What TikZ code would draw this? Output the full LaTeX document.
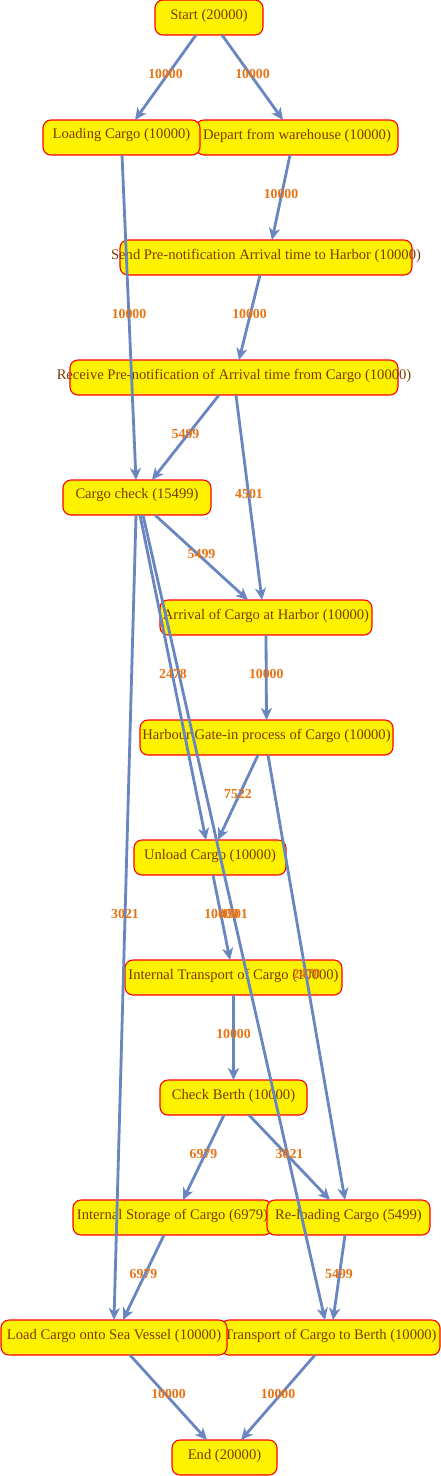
\documentclass[tikz,border=0pt]{standalone}
\usepackage{fontspec}
\setmainfont{Liberation Serif}
\usetikzlibrary{arrows.meta}
\definecolor{edgeblue}{RGB}{106,134,192}
\definecolor{lblorange}{RGB}{230,115,20}
\definecolor{txtbrown}{RGB}{120,60,0}
\begin{document}
\begin{tikzpicture}[x=1pt,y=-1pt,
  box/.style={draw=red, line width=1.1pt, fill=yellow, rounded corners=8pt, minimum height=35pt, inner sep=0pt, outer sep=0pt},
  txt/.style={font=\fontsize{14.6}{16}\selectfont, text=txtbrown, inner sep=0pt, yshift=2pt},
  flow/.style={draw=edgeblue, line width=2.8pt, -{Stealth[length=12pt,width=11pt,inset=3.5pt]}},
  lbl/.style={font=\fontsize{13.8}{15}\selectfont\bfseries, text=lblorange, inner sep=0pt, yshift=4pt}]
\useasboundingbox (0,0) rectangle (441,1476);
% nodes
\node[box, minimum width=108pt, label={[txt]center:Start (20000)}] (start) at (209,17.5) {};
\node[box, minimum width=202pt, label={[txt]center:Depart from warehouse (10000)}] (depart) at (297,137.5) {};
\node[box, minimum width=157pt, label={[txt]center:Loading Cargo (10000)}] (load) at (121.5,137.5) {};
\node[box, minimum width=292pt, label={[txt]center:Send Pre-notification Arrival time to Harbor (10000)}] (send) at (266,257.5) {};
\node[box, minimum width=328pt, label={[txt]center:Receive Pre-notification of Arrival time from Cargo (10000)}] (recv) at (234,377.5) {};
\node[box, minimum width=148pt, label={[txt]center:Cargo check (15499)}] (check) at (137,497.5) {};
\node[box, minimum width=212pt, label={[txt]center:Arrival of Cargo at Harbor (10000)}] (arrival) at (266,617.5) {};
\node[box, minimum width=253pt, label={[txt]center:Harbour Gate-in process of Cargo (10000)}] (gate) at (266.5,737.5) {};
\node[box, minimum width=152pt, label={[txt]center:Unload Cargo (10000)}] (unload) at (210,857.5) {};
\node[box, minimum width=217pt, label={[txt]center:Internal Transport of Cargo (10000)}] (itrans) at (233.5,977.5) {};
\node[box, minimum width=147pt, label={[txt]center:Check Berth (10000)}] (berth) at (233.5,1097.5) {};
\node[box, minimum width=199pt, label={[txt]center:Internal Storage of Cargo (6979)}] (istore) at (172.5,1217.5) {};
\node[box, minimum width=163pt, label={[txt]center:Re-loading Cargo (5499)}] (reload) at (348.5,1217.5) {};
\node[box, minimum width=219pt, label={[txt]center:Transport of Cargo to Berth (10000)}] (tberth) at (330.5,1337.5) {};
\node[box, minimum width=226pt, label={[txt]center:Load Cargo onto Sea Vessel (10000)}] (vessel) at (114,1337.5) {};
\node[box, minimum width=105pt, label={[txt]center:End (20000)}] (end) at (224.5,1457.5) {};
% edges
\draw[flow] ([xshift=-13pt]start.south) -- coordinate[midway] (m1) ([xshift=13.5pt]load.north);
\draw[flow] ([xshift=13pt]start.south) -- coordinate[midway] (m2) ([xshift=-14pt]depart.north);
\draw[flow] ([xshift=0.5pt]load.south) -- coordinate[midway] (m3) ([xshift=-1pt]check.north);
\draw[flow] ([xshift=-7pt]depart.south) -- coordinate[midway] (m4) ([xshift=6pt]send.north);
\draw[flow] ([xshift=-6pt]send.south) -- coordinate[midway] (m5) ([xshift=5pt]recv.north);
\draw[flow] ([xshift=-15pt]recv.south) -- coordinate[midway] (m6) ([xshift=15pt]check.north);
\draw[flow] ([xshift=2pt]recv.south) -- coordinate[midway] (m7) ([xshift=-4pt]arrival.north);
\draw[flow] ([xshift=18pt]check.south) -- coordinate[midway] (m8) ([xshift=-18pt]arrival.north);
\draw[flow] ([xshift=3pt]check.south) -- coordinate[midway] (m9) ([xshift=-4pt]unload.north);
\draw[flow] (arrival.south) -- coordinate[midway] (m10) (gate.north);
\draw[flow] ([xshift=-8.5pt]gate.south) -- coordinate[midway] (m11) ([xshift=8pt]unload.north);
\draw[flow] ([xshift=3pt]unload.south) -- coordinate[midway] (m12) ([xshift=-3.5pt]itrans.north);
\draw[flow] ([xshift=6pt]check.south) -- coordinate[midway] (m13) ([xshift=-5.5pt]tberth.north);
\draw[flow] ([xshift=1.5pt]gate.south) -- coordinate[midway] (m14) ([xshift=-3.5pt]reload.north);
\draw[flow] ([xshift=-1pt]check.south) -- coordinate[midway] (m15) (vessel.north);
\draw[flow] (itrans.south) -- coordinate[midway] (m16) (berth.north);
\draw[flow] ([xshift=-9.5pt]berth.south) -- coordinate[midway] (m17) ([xshift=10.5pt]istore.north);
\draw[flow] ([xshift=15.5pt]berth.south) -- coordinate[midway] (m18) ([xshift=-18.5pt]reload.north);
\draw[flow] ([xshift=-8.5pt]istore.south) -- coordinate[midway] (m19) ([xshift=9pt]vessel.north);
\draw[flow] ([xshift=-3.5pt]reload.south) -- coordinate[midway] (m20) ([xshift=2.5pt]tberth.north);
\draw[flow] ([xshift=16pt]vessel.south) -- coordinate[midway] (m21) ([xshift=-17.5pt]end.north);
\draw[flow] ([xshift=-15.5pt]tberth.south) -- coordinate[midway] (m22) ([xshift=16.5pt]end.north);
% labels
\node[lbl] (l1) at (m1) {10000};
\node[lbl] (l2) at (m2) {10000};
\node[lbl] (l3) at (m3) {10000};
\node[lbl] (l4) at (m4) {10000};
\node[lbl] (l5) at (m5) {10000};
\node[lbl] (l6) at (m6) {5499};
\node[lbl] (l7) at (m7) {4501};
\node[lbl] (l8) at (m8) {5499};
\node[lbl] (l9) at (m9) {2478};
\node[lbl] (l10) at (m10) {10000};
\node[lbl] (l11) at (m11) {7522};
\node[lbl] (l12) at (m12) {10000};
\node[lbl] (l13) at (m13) {4501};
\node[lbl] (l14) at (m14) {2478};
\node[lbl] (l15) at (m15) {3021};
\node[lbl] (l16) at (m16) {10000};
\node[lbl] (l17) at (m17) {6979};
\node[lbl] (l18) at (m18) {3021};
\node[lbl] (l19) at (m19) {6979};
\node[lbl] (l20) at (m20) {5499};
\node[lbl] (l21) at (m21) {10000};
\node[lbl] (l22) at (m22) {10000};
\end{tikzpicture}
\end{document}
